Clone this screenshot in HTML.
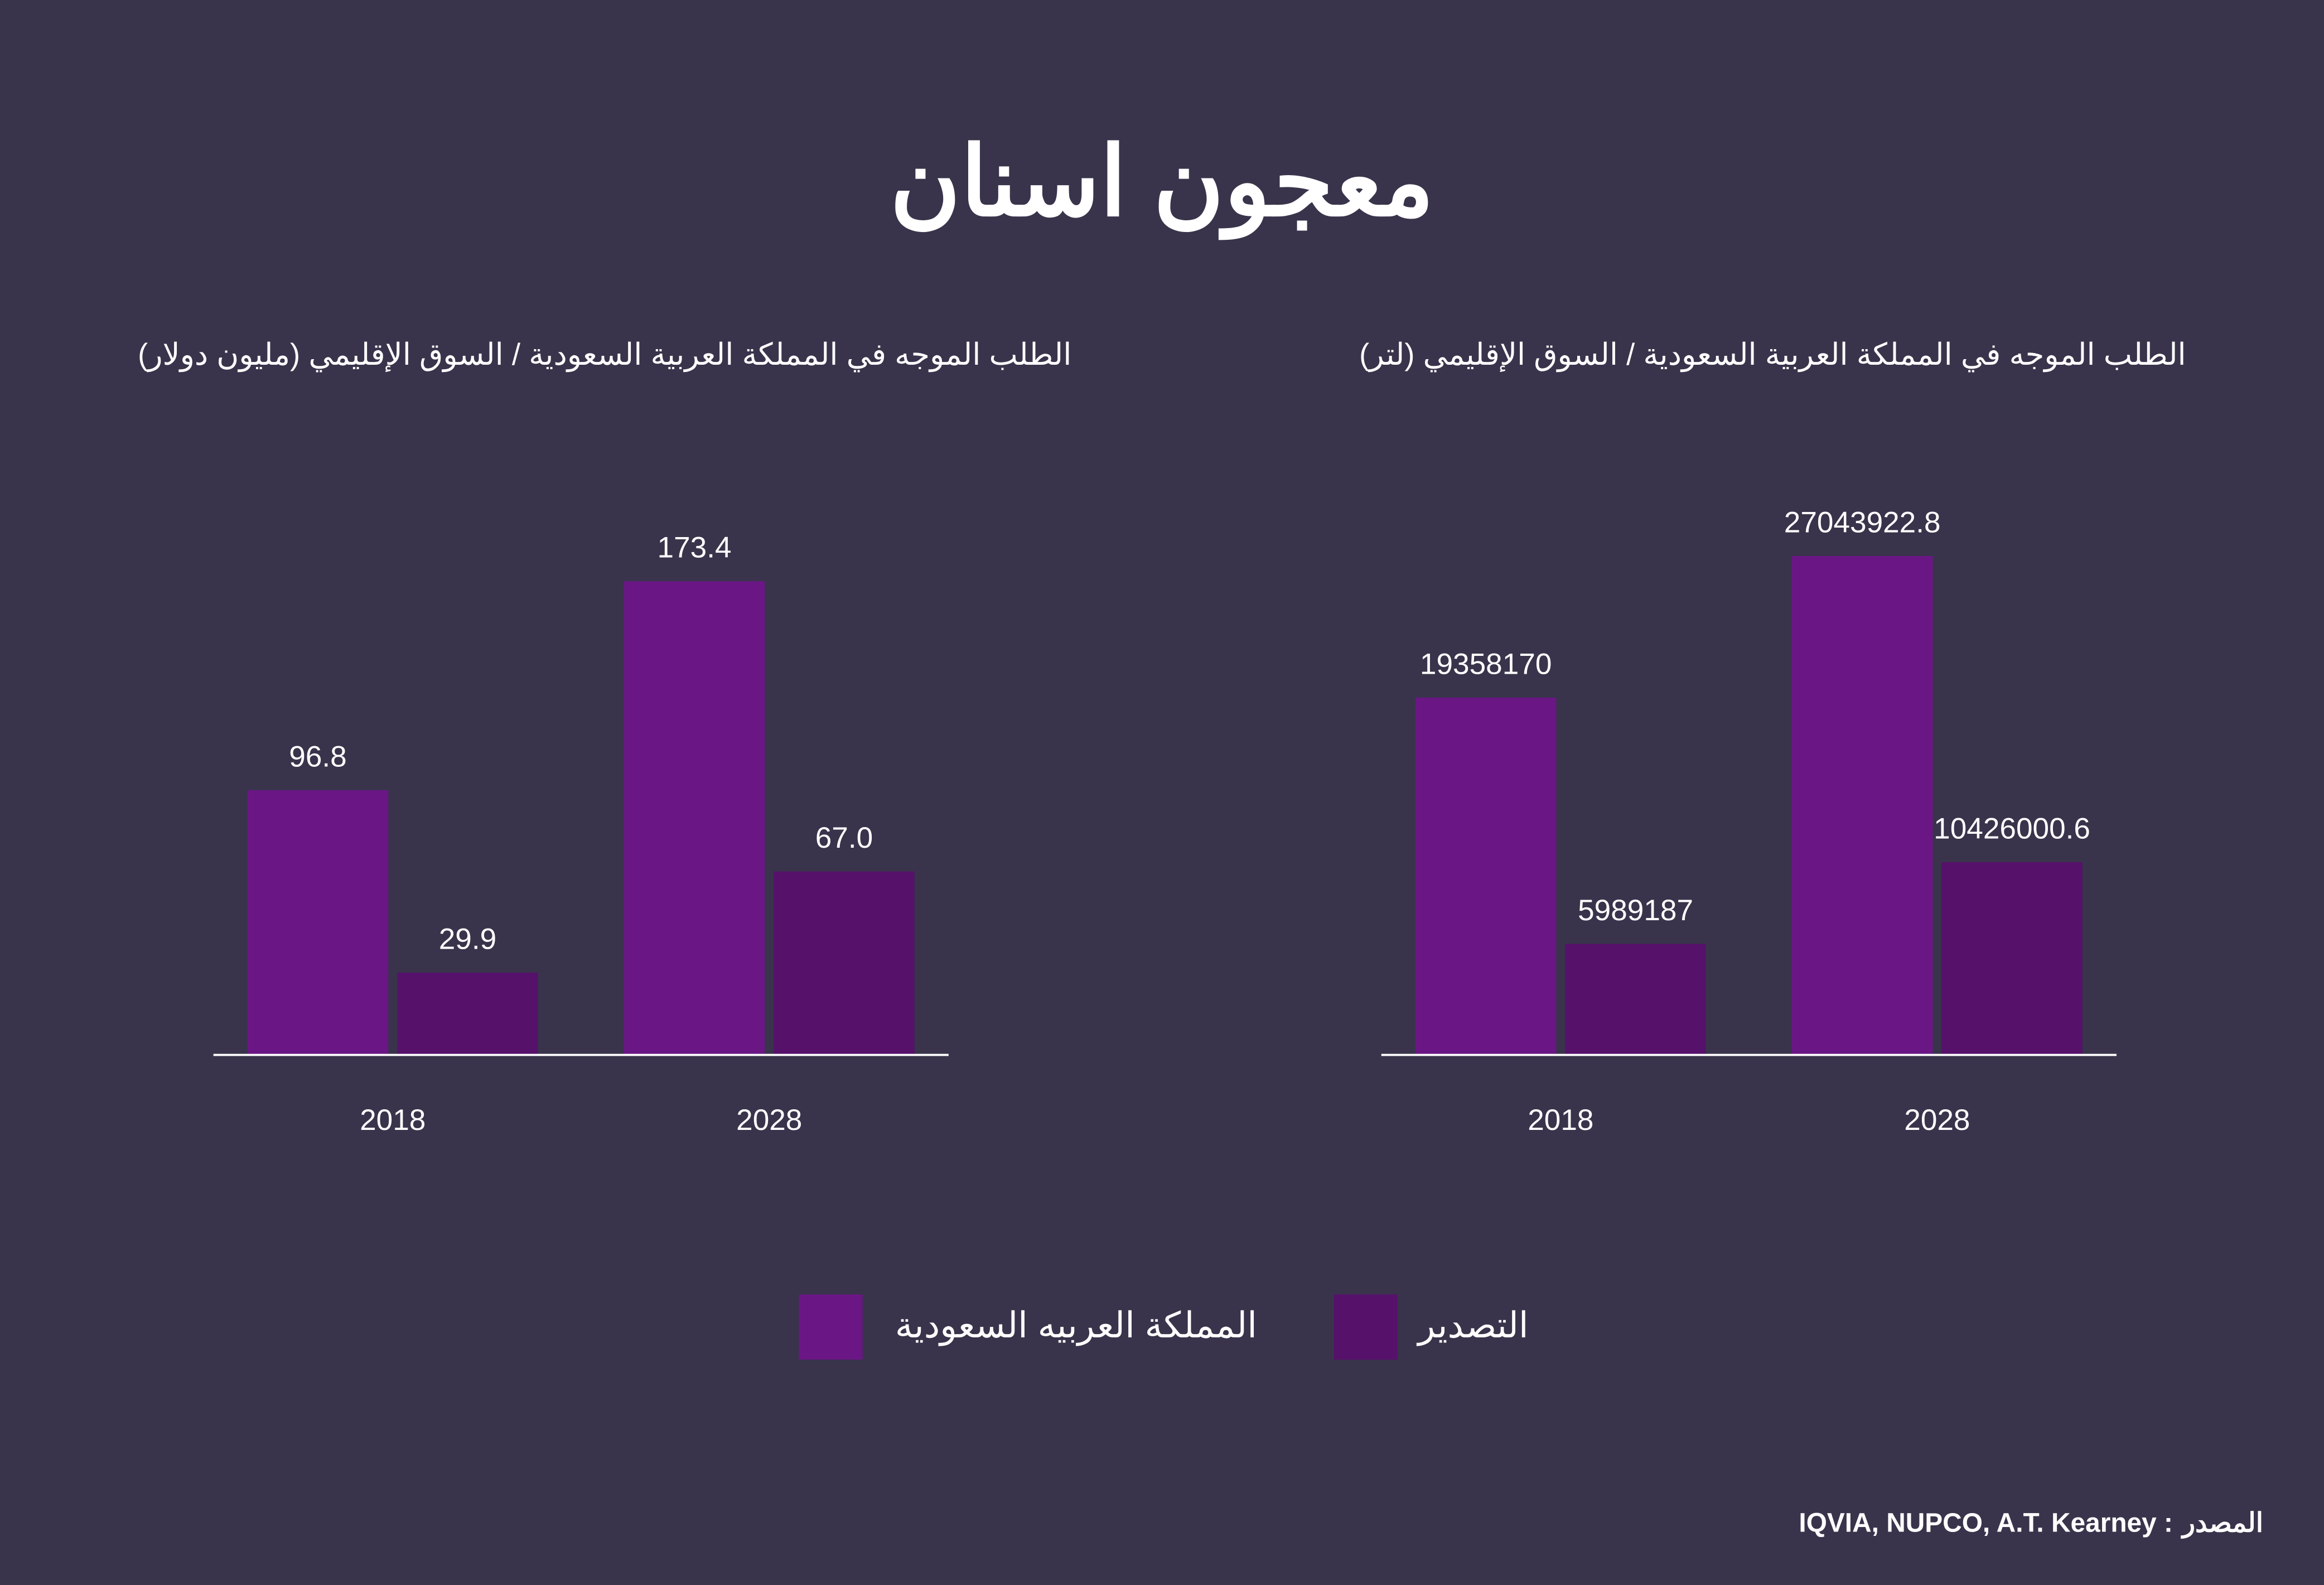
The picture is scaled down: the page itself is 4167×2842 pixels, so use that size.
<!DOCTYPE html>
<html><head><meta charset="utf-8"><style>
html,body{margin:0;padding:0;background:#39344b;}
svg{display:block;}
text{font-family:"Liberation Sans","Noto Sans CJK SC",sans-serif;fill:#fff;}
</style></head><body>
<svg id="chart" width="4167" height="2842" viewBox="0 0 1568 1069" preserveAspectRatio="none" xmlns="http://www.w3.org/2000/svg">
<rect x="0" y="0" width="1568" height="1069" fill="#39344b"/>
<text x="784" y="145" text-anchor="middle" font-size="65" font-weight="bold">معجون اسنان</text>
<text x="408" y="246" text-anchor="middle" font-size="20.5">الطلب الموجه في المملكة العربية السعودية / السوق الإقليمي (مليون دولار)</text>
<text x="1196" y="246" text-anchor="middle" font-size="20.5">الطلب الموجه في المملكة العربية السعودية / السوق الإقليمي (لتر)</text>
<g id="left"></g>
<g id="right"></g>
<rect x="539" y="873" width="43" height="44" fill="#6a1785"/>
<text x="726" y="902" text-anchor="middle" font-size="24">المملكة العربيه السعودية</text>
<rect x="900" y="873" width="43" height="44" fill="#56116b"/>
<text x="994" y="902" text-anchor="middle" font-size="24">التصدير</text>
<text x="1466" y="1033" text-anchor="end" font-size="18" font-weight="bold">IQVIA, NUPCO, A.T. Kearney :</text>
<text x="1527" y="1033" text-anchor="end" font-size="18" font-weight="bold">المصدر</text>
</svg>
<script>
const years = ["2018","2028"];
const leftKsa = [96.8, 173.4];
const leftExport = [29.9, 67.0];
const leftLabelsKsa = ["96.8","173.4"];
const leftLabelsExport = ["29.9","67.0"];
const rightKsa = [19358170, 27043922.8];
const rightExport = [5989187, 10426000.6];
const rightLabelsKsa = ["19358170","27043922.8"];
const rightLabelsExport = ["5989187","10426000.6"];

const NS = "http://www.w3.org/2000/svg";
const baseY = 711;
function mk(tag, attrs, parent){
  const e = document.createElementNS(NS, tag);
  for (const k in attrs) e.setAttribute(k, attrs[k]);
  parent.appendChild(e);
  return e;
}
function drawChart(g, x0, ksa, exp, lk, le, maxVal, maxPx, prefix){
  const yScale = v => baseY - v / maxVal * maxPx;
  const groupX = [x0 + 23, x0 + 277];
  const series = [[ksa, lk, "#6a1785", 0, "ksa"], [exp, le, "#56116b", 101, "export"]];
  years.forEach((yr, i) => {
    series.forEach(s => {
      const x = groupX[i] + s[3];
      const y = yScale(s[0][i]);
      const r = mk("rect", {x: x, y: y, width: 95, height: baseY - y, fill: s[2]}, g);
      
      
      const t = mk("text", {x: x + 47.5, y: y - 16, "text-anchor": "middle", "font-size": "20"}, g);
      t.textContent = s[1][i];
      
      
    });
    const yl = mk("text", {x: groupX[i] + 98, y: 762, "text-anchor": "middle", "font-size": "20"}, g);
    yl.textContent = yr;
    
    
  });
  const ax = mk("line", {x1: x0, x2: x0 + 496, y1: baseY + 0.5, y2: baseY + 0.5, stroke: "#ffffff", "stroke-width": 1.5}, g);
  
  
}
drawChart(document.getElementById("left"), 144, leftKsa, leftExport, leftLabelsKsa, leftLabelsExport, 173.4, 319, "left");
drawChart(document.getElementById("right"), 932, rightKsa, rightExport, rightLabelsKsa, rightLabelsExport, 27043922.8, 336, "right");
</script>
</body></html>
